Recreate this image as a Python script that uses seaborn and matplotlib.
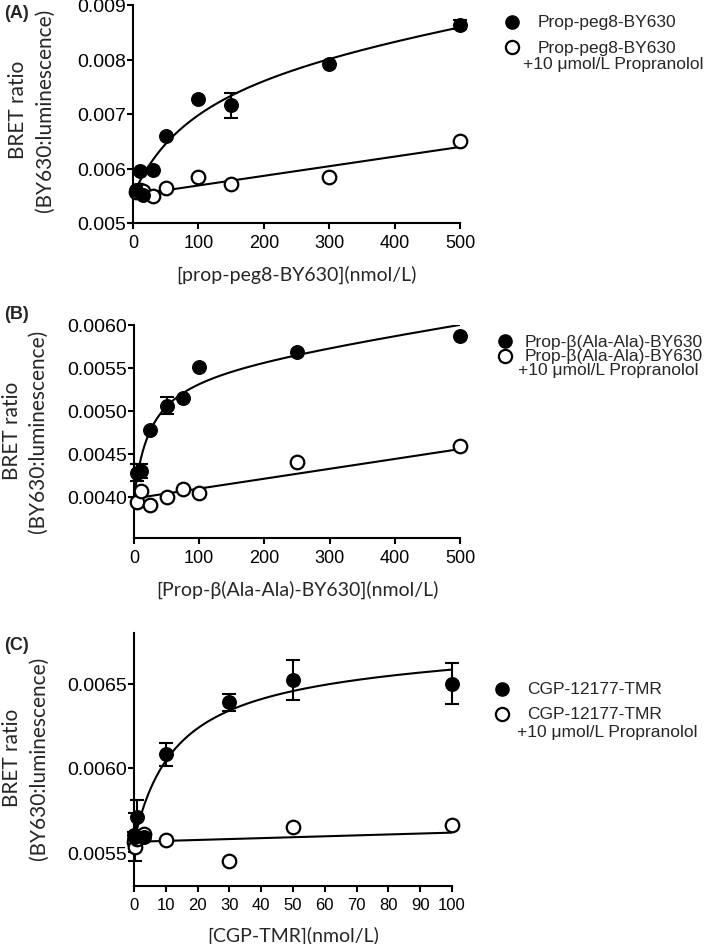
import matplotlib
matplotlib.use("Agg")
import matplotlib.pyplot as plt
from matplotlib.lines import Line2D
import seaborn as sns
import pandas as pd
import numpy as np

# ---- data ----
# (A) prop-peg8-BY630
a_conc = [5, 10, 15, 30, 50, 100, 150, 300, 500]
a_total = [0.00560, 0.00595, 0.00552, 0.00598, 0.00660, 0.00728, 0.00716, 0.00792, 0.00864]
a_total_err = [0, 0, 0, 0, 0, 0, 0.00023, 0, 0.00008]
a_nsb = [0.00557, 0.00560, 0.00558, 0.00550, 0.00565, 0.00584, 0.00571, 0.00584, 0.00650]

# (B) Prop-b(Ala-Ala)-BY630
b_conc = [5, 10, 25, 50, 75, 100, 250, 500]
b_total = [0.00428, 0.00430, 0.00478, 0.00506, 0.00515, 0.00551, 0.00568, 0.00587]
b_total_err = [0.00010, 0.00008, 0, 0.00010, 0, 0, 0, 0]
b_nsb = [0.00394, 0.00407, 0.00391, 0.00400, 0.00409, 0.00404, 0.00440, 0.00459]

# (C) CGP-12177-TMR
c_conc = [0.1, 0.3, 1, 3, 10, 30, 50, 100]
c_total = [0.00560, 0.00559, 0.00571, 0.00559, 0.00608, 0.00639, 0.00652, 0.00650]
c_total_err = [0.00002, 0.00014, 0.00010, 0.00002, 0.00007, 0.00005, 0.00012, 0.00012]
c_nsb = [0.00556, 0.00553, 0.00558, 0.00561, 0.00557, 0.00545, 0.00565, 0.00566]


def global_fit(x, tot, ns):
    # total = c + m*x + Bmax*x/(Kd+x), nonspecific = c + m*x (shared c, m)
    x = np.asarray(x, float)
    yv = np.concatenate([tot, ns])
    best = None
    for kd in np.logspace(-1, 4, 500):
        X = np.vstack([np.column_stack([np.ones_like(x), x, x / (kd + x)]),
                       np.column_stack([np.ones_like(x), x, np.zeros_like(x)])])
        coef = np.linalg.lstsq(X, yv, rcond=None)[0]
        r = np.sum((X @ coef - yv) ** 2)
        if best is None or r < best[0]:
            best = (r, kd, coef)
    return best[1], best[2]


sns.set_style("ticks")
plt.rcParams['font.family'] = ['Liberation Sans', 'DejaVu Sans']
plt.rcParams['axes.linewidth'] = 1.5
plt.rcParams['xtick.major.width'] = 1.5
plt.rcParams['ytick.major.width'] = 1.5
plt.rcParams['xtick.major.size'] = 4
plt.rcParams['ytick.major.size'] = 4
plt.rcParams['xtick.color'] = 'black'
plt.rcParams['ytick.color'] = 'black'
plt.rcParams['axes.edgecolor'] = 'black'

W, H = 709, 945
fig = plt.figure(figsize=(W / 100, H / 100), dpi=100)


def px_axes(left, right, top, bottom):
    return fig.add_axes([left / W, 1 - bottom / H, (right - left) / W, (bottom - top) / H])


def panel(ax, conc, tot, err, ns, xlim, ylim, xticks, yticks, yfmt, xlabel,
          tick_fs, xtick_fs):
    kd, coef = global_fit(conc, tot, ns)
    xs = np.linspace(xlim[0], xlim[1], 400)
    curve = pd.DataFrame({'x': xs,
                          'total': coef[0] + coef[1] * xs + coef[2] * xs / (kd + xs),
                          'ns': coef[0] + coef[1] * xs})
    sns.lineplot(data=curve, x='x', y='total', ax=ax, color='black', lw=1.5)
    sns.lineplot(data=curve, x='x', y='ns', ax=ax, color='black', lw=1.5)

    df = pd.DataFrame({'conc': conc, 'total': tot, 'err': err, 'ns': ns})
    e = df[df['err'] > 0]
    ax.errorbar(e['conc'], e['total'], yerr=e['err'], fmt='none', ecolor='black',
                elinewidth=1.5, capsize=5, capthick=1.5, clip_on=False, zorder=3)
    sns.scatterplot(data=df, x='conc', y='ns', ax=ax, marker='o', s=95, color='white',
                    edgecolor='black', linewidth=1.6, clip_on=False, zorder=4)
    sns.scatterplot(data=df, x='conc', y='total', ax=ax, marker='o', s=95, color='black',
                    edgecolor='black', linewidth=1, clip_on=False, zorder=5)

    ax.set_xlim(*xlim)
    ax.set_ylim(*ylim)
    ax.set_xticks(xticks)
    ax.set_yticks(yticks)
    ax.set_yticklabels([yfmt.format(v) for v in yticks], fontsize=tick_fs)
    ax.set_xticklabels([str(v) for v in xticks], fontsize=xtick_fs)
    ax.tick_params(axis='y', direction='out', pad=1)
    ax.tick_params(axis='x', direction='out', pad=4)
    sns.despine(ax=ax)
    ax.set_xlabel(xlabel, family='Lato', fontsize=14, labelpad=10)
    ax.set_ylabel('')


def ylabel(x1, x2, yc):
    fig.text(x1 / W, 1 - yc / H, 'BRET ratio', family='Lato', fontsize=15,
             rotation=90, ha='center', va='center')
    fig.text(x2 / W, 1 - yc / H, '(BY630:luminescence)', family='Lato', fontsize=15,
             rotation=90, ha='center', va='center')


def legend(x, y, label, sub, dy, dsub, fs, tx, sx):
    fig.add_artist(Line2D([x / W], [1 - y / H], marker='o', ms=9.5, color='black',
                          transform=fig.transFigure))
    fig.add_artist(Line2D([x / W], [1 - (y + dy) / H], marker='o', ms=9.5, mfc='white',
                          mec='black', mew=1.6, color='black', transform=fig.transFigure))
    fig.text(tx / W, 1 - y / H, label, fontsize=fs, va='center')
    fig.text(tx / W, 1 - (y + dy) / H, label, fontsize=fs, va='center')
    fig.text(sx / W, 1 - (y + dy + dsub) / H, sub, fontsize=fs, va='center')


sub = '+10 \u03bcmol/L Propranolol'

axA = px_axes(133, 460, 6, 224)
panel(axA, a_conc, a_total, a_total_err, a_nsb, (0, 500), (0.005, 0.009),
      [0, 100, 200, 300, 400, 500], [0.005, 0.006, 0.007, 0.008, 0.009], '{:.3f}',
      '[prop-peg8-BY630](nmol/L)', 14, 13)
ylabel(18, 45, 110)
fig.text(4 / W, 1 - 14 / H, '(A)', fontsize=13, fontweight='bold', va='center')
legend(512, 23, 'Prop-peg8-BY630', sub, 25, 16, 12.5, 538, 523)

axB = px_axes(134, 460, 326, 539)
panel(axB, b_conc, b_total, b_total_err, b_nsb, (0, 500), (0.00352, 0.0060),
      [0, 100, 200, 300, 400, 500], [0.0040, 0.0045, 0.0050, 0.0055, 0.0060], '{:.4f}',
      '[Prop-\u03b2(Ala-Ala)-BY630](nmol/L)', 14, 13)
ylabel(12, 38, 431)
fig.text(4 / W, 1 - 315 / H, '(B)', fontsize=13, fontweight='bold', va='center')
legend(505, 342, 'Prop-\u03b2(Ala-Ala)-BY630', sub, 15, 14, 12.5, 525, 518)

axC = px_axes(134, 452, 634, 887)
panel(axC, c_conc, c_total, c_total_err, c_nsb, (0, 100), (0.0053, 0.0068),
      list(range(0, 101, 10)), [0.0055, 0.0060, 0.0065], '{:.4f}',
      '[CGP-TMR](nmol/L)', 14, 12)
ylabel(12, 39, 758)
fig.text(4 / W, 1 - 645 / H, '(C)', fontsize=13, fontweight='bold', va='center')
legend(502, 690, 'CGP-12177-TMR', sub, 25, 17, 12.5, 527, 517)

fig.savefig('out.png', dpi=100)
